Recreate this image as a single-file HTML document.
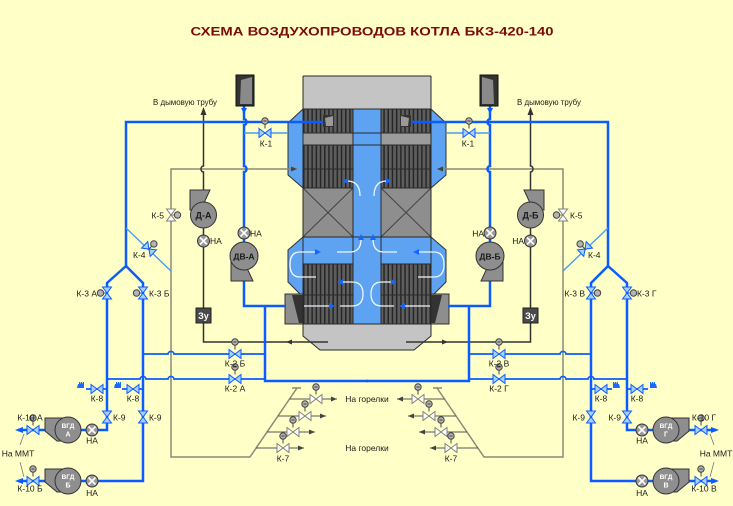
<!DOCTYPE html>
<html><head><meta charset="utf-8"><style>
html,body{margin:0;padding:0;background:#ffffc8;}
svg{display:block;}
text{font-family:"Liberation Sans",sans-serif;fill:#1a1a1a;font-size:8.5px;}
</style></head><body>
<svg width="733" height="506" viewBox="0 0 733 506" xmlns="http://www.w3.org/2000/svg">
<defs>
<pattern id="hat" x="303" y="0" width="4.2" height="10" patternUnits="userSpaceOnUse">
<rect width="4.2" height="10" fill="#5e5e5e"/><rect width="1.5" height="10" fill="#262626"/>
</pattern>
<path id="vh" d="M-6,-4.5 L0,0 L-6,4.5 Z M6,-4.5 L0,0 L6,4.5 Z"/>
<path id="vv" d="M-4.5,-6 L0,0 L4.5,-6 Z M-4.5,6 L0,0 L4.5,6 Z"/>
<g id="act"><line x1="0" y1="0" x2="0" y2="-4.5" stroke="#444"/><circle cx="0" cy="-7.5" r="3.2" fill="#b4b4b4" stroke="#444"/><line x1="-1.6" y1="-7.5" x2="1.6" y2="-7.5" stroke="#222" stroke-width="0.8"/></g>
<g id="na"><circle r="6" fill="#9a9a9a" stroke="#333" stroke-width="1"/><path d="M-3.5,-3.5 L3.5,3.5 M-3.5,3.5 L3.5,-3.5" stroke="#fff" stroke-width="1.6"/></g>
</defs>
<rect width="733" height="506" fill="#ffffc8"/>

<g id="L">
<!-- boiler left half -->
<polygon points="303,109 288,123 288,175 303,188" fill="#5ea2f2" stroke="#333" stroke-width="1"/>
<polygon points="303,237 288,250 288,282 300,294 303,294" fill="#5ea2f2" stroke="#333" stroke-width="1"/>
<rect x="303" y="76" width="64.5" height="33" fill="#c4c4c4"/>
<rect x="303" y="109" width="50" height="24" fill="url(#hat)"/>
<rect x="303" y="133" width="50" height="12" fill="#9c9c9c"/>
<rect x="303" y="145" width="50" height="43" fill="url(#hat)"/>
<rect x="353" y="109" width="14.5" height="215" fill="#5ea2f2"/>
<rect x="303" y="188" width="50" height="49" fill="#8e8e8e"/>
<path d="M303,188 L353,237 M353,188 L303,237" stroke="#444" stroke-width="1"/>
<rect x="303" y="237" width="64.5" height="27" fill="#5ea2f2"/>
<rect x="303" y="264" width="50" height="60" fill="url(#hat)"/>
<polygon points="303,324 367.5,324 367.5,350 320,350 303,336" fill="#c4c4c4"/>
<rect x="285" y="294" width="18" height="30" fill="#8e8e8e" stroke="#333" stroke-width="1"/>
<polygon points="292,295 303,295 303,323 299,323" fill="#333"/>
<path d="M303,76 H367.5 M303,76 V336 L320,350 H367.5 M303,109 H367.5 M303,133 H367.5 M303,145 H367.5 M303,169 H353 M303,188 H353 M303,237 H367.5 M303,264 H353 M303,295 H353 M303,324 H367.5 M353,109 V324" stroke="#2a2a2a" stroke-width="1" fill="none"/>
<rect x="323" y="115" width="11" height="12" fill="#333"/>
<polygon points="325,118 333,116 333,126 326,126" fill="#9a9a9a"/>
<!-- flow arrows -->
<g fill="none" stroke="#eef6ff" stroke-width="1.3">
<path d="M360,196 Q360,181 347,181"/>
<path d="M337,252 H350 Q361,252 361,239"/>
<path d="M316,277 H300 Q290,277 290,264.5 Q290,252 300,252 H316"/>
<path d="M304,306 H330 M340,306 H352 Q363,306 363,294 Q363,282 352,282 H342"/>
</g>
<g fill="#1466ff">
<polygon points="348,178 342,181 348,184"/>
<polygon points="358,240 361,234 364,240"/>
<polygon points="315,249 321,252 315,255"/>
<polygon points="329,303 335,306 329,309"/>
<polygon points="343,279 337,282 343,285"/>
</g>

<!-- gray lines -->
<path d="M297,169 H171 V457 H250 L297,388 M292,388 H301" fill="none" stroke="#8a8a78" stroke-width="1.5"/>
<polygon points="291,166.5 297,169 291,171.5" fill="#444"/>
<path d="M289.5,399 H337 M278,416 H326 M267,432 H315 M256,448 H304" stroke="#555" stroke-width="1"/>
<g fill="#444">
<polygon points="331,396.5 337,399 331,401.5"/>
<polygon points="320,413.5 326,416 320,418.5"/>
<polygon points="309,429.5 315,432 309,434.5"/>
<polygon points="298,445.5 304,448 298,450.5"/>
</g>
<g fill="#fff" stroke="#808080" stroke-width="1">
<use href="#vh" x="316" y="399"/><use href="#act" x="316" y="394.5"/>
<use href="#vh" x="305" y="416"/><use href="#act" x="305" y="411.5"/>
<use href="#vh" x="293" y="432"/><use href="#act" x="293" y="427.5"/>
<use href="#vh" x="283" y="448"/><use href="#act" x="283" y="443.5"/>
<use href="#vv" x="171" y="215"/>
<line x1="171" y1="215" x2="174.5" y2="215"/><circle cx="177.5" cy="215" r="3.2" fill="#b4b4b4" stroke="#444"/>
</g>

<!-- dark Д line -->
<path d="M328,342 H203.5 V172 a2.5,3 0 0 1 0,-6 V111" fill="none" stroke="#333" stroke-width="1.5"/>
<polygon points="200.5,115 203.5,107 206.5,115" fill="#333"/>
<polygon points="292,339.5 286,342 292,344.5" fill="#333"/>

<!-- blue main lines -->
<g fill="none" stroke="#0a5cff" stroke-width="2.5">
<path d="M323,122 H126 V266 L107,283 V430 H18"/>
<path d="M126,266 L143,283 V481 H18"/>
<path d="M244,106 V119 a2.5,3 0 0 1 0,6 V166 a2.5,3 0 0 1 0,6 V306 H286"/>
<path d="M265,306 V381 H368"/>
</g>
<g fill="none" stroke="#0a5cff" stroke-width="1.7">
<path d="M143,354 H168 a3,2.5 0 0 1 6,0 H265"/>
<path d="M107,379 H140 a3,2.5 0 0 1 6,0 H168 a3,2.5 0 0 1 6,0 H265"/>
<path d="M107,389 H86 M143,389 H122"/>
</g>
<polygon points="241,108 244,114 247,108" fill="#0a5cff"/>
<polygon points="23,427 15,430 23,433" fill="#0a5cff"/>
<polygon points="23,478 15,481 23,484" fill="#0a5cff"/>
<g fill="none" stroke="#4a9cf0" stroke-width="1.4">
<path d="M244,133 H288"/>
<path d="M126,228 L171,271"/>
</g>
<path d="M20,445 L24,434 M20,462 L24,477" stroke="#777" stroke-width="0.8"/>
<!-- K-8 icons -->
<g fill="#1a6aff">
<path d="M77,388 l1,-4 l1,0 l0,-2 l1,0 l0,2 l1,-2 l1,0 l0,2 l1,-2 l1,0 l0,6 z"/>
<path d="M114,388 l1,-4 l1,0 l0,-2 l1,0 l0,2 l1,-2 l1,0 l0,2 l1,-2 l1,0 l0,6 z"/>
</g>
<!-- blue valves -->
<g fill="#a8d0ff" stroke="#0a5cff" stroke-width="1">
<use href="#vh" x="265" y="133"/><use href="#act" x="265" y="128.5"/>
<use href="#vh" x="235" y="354"/><use href="#act" x="235" y="349.5"/>
<use href="#vh" x="235" y="379"/><use href="#act" x="235" y="374.5"/>
<use href="#vv" x="107" y="293"/><line x1="104" y1="293" x2="107" y2="293"/><circle cx="100.5" cy="293" r="3.2" fill="#b4b4b4" stroke="#444"/>
<use href="#vv" x="143" y="293"/><line x1="140" y1="293" x2="143" y2="293"/><circle cx="136.5" cy="293" r="3.2" fill="#b4b4b4" stroke="#444"/>
<use href="#vv" x="107" y="417"/>
<use href="#vv" x="143" y="417"/>
<use href="#vh" x="97" y="389"/>
<use href="#vh" x="133" y="389"/>
<use href="#vh" x="33" y="430"/><use href="#act" x="33" y="425.5"/>
<use href="#vh" x="33" y="481"/><use href="#act" x="33" y="476.5"/>
<g transform="translate(149,249) rotate(43.7)"><use href="#vh"/><line x1="0" y1="0" x2="0" y2="-4" stroke="#444"/><circle cx="0" cy="-7" r="3.2" fill="#b4b4b4" stroke="#444"/></g>
</g>

<!-- intake box -->
<rect x="236" y="75" width="18" height="31" fill="#333" stroke="#111" stroke-width="1"/>
<polygon points="241,80 252,77 252,104 240,104" fill="#8a8a8a"/>

<!-- fans -->
<g fill="#8e8e8e" stroke="#333" stroke-width="1">
<polygon points="190,190 210,190 204,203 204,210 190,210"/>
<circle cx="203.5" cy="215" r="13"/>
<polygon points="231,260 231,281 253,281 246,266"/>
<circle cx="244" cy="256" r="14"/>
<polygon points="45,418 68,418 68,441 57,441 45,431"/>
<circle cx="68" cy="430" r="13"/>
<polygon points="45,469 68,469 68,492 57,492 45,482"/>
<circle cx="68" cy="481" r="13"/>
</g>
<use href="#na" x="203.5" y="241"/>
<use href="#na" x="244" y="233"/>
<use href="#na" x="92" y="430"/>
<use href="#na" x="92" y="481"/>
<rect x="196" y="308" width="15" height="15" fill="#4a4a4a" stroke="#222" stroke-width="1"/>
</g>

<use href="#L" transform="matrix(-1,0,0,1,734,0)"/>

<!-- title -->
<text x="372" y="35.5" text-anchor="middle" font-weight="bold" style="font-size:12px;fill:#7a0a0a" textLength="363" lengthAdjust="spacingAndGlyphs">СХЕМА ВОЗДУХОПРОВОДОВ КОТЛА БКЗ-420-140</text>

<!-- labels -->
<text x="185" y="105" text-anchor="middle" textLength="64" lengthAdjust="spacingAndGlyphs">В дымовую трубу</text>
<text x="549" y="105" text-anchor="middle" textLength="64" lengthAdjust="spacingAndGlyphs">В дымовую трубу</text>
<text x="266" y="146.5" text-anchor="middle">К-1</text>
<text x="468" y="146.5" text-anchor="middle">К-1</text>
<text x="164" y="218.5" text-anchor="end">К-5</text>
<text x="570" y="218.5">К-5</text>
<text x="210" y="244">НА</text>
<text x="524" y="244" text-anchor="end">НА</text>
<text x="250" y="236.5">НА</text>
<text x="484" y="236.5" text-anchor="end">НА</text>
<text x="133" y="258">К-4</text>
<text x="588" y="258">К-4</text>
<text x="97" y="296.5" text-anchor="end">К-3 А</text>
<text x="149" y="296.5">К-3 Б</text>
<text x="585" y="296.5" text-anchor="end">К-3 В</text>
<text x="637" y="296.5">К-3 Г</text>
<text x="235" y="366.5" text-anchor="middle">К-2 Б</text>
<text x="235" y="391.5" text-anchor="middle">К-2 А</text>
<text x="499" y="366.5" text-anchor="middle">К-2 В</text>
<text x="499" y="391.5" text-anchor="middle">К-2 Г</text>
<text x="97" y="401.5" text-anchor="middle">К-8</text>
<text x="133" y="401.5" text-anchor="middle">К-8</text>
<text x="601" y="401.5" text-anchor="middle">К-8</text>
<text x="637" y="401.5" text-anchor="middle">К-8</text>
<text x="113" y="420.5">К-9</text>
<text x="149" y="420.5">К-9</text>
<text x="585" y="420.5" text-anchor="end">К-9</text>
<text x="621" y="420.5" text-anchor="end">К-9</text>
<text x="367" y="402" text-anchor="middle">На горелки</text>
<text x="367" y="451" text-anchor="middle">На горелки</text>
<text x="283" y="461.5" text-anchor="middle">К-7</text>
<text x="451" y="461.5" text-anchor="middle">К-7</text>
<text x="30" y="420.5" text-anchor="middle">К-10 А</text>
<text x="30" y="491.5" text-anchor="middle">К-10 Б</text>
<text x="704" y="420.5" text-anchor="middle">К-10 Г</text>
<text x="704" y="491.5" text-anchor="middle">К-10 В</text>
<text x="92" y="443.5" text-anchor="middle">НА</text>
<text x="92" y="496" text-anchor="middle">НА</text>
<text x="642" y="443.5" text-anchor="middle">НА</text>
<text x="642" y="496" text-anchor="middle">НА</text>
<text x="18" y="456.5" text-anchor="middle">На ММТ</text>
<text x="716" y="456.5" text-anchor="middle">На ММТ</text>

<!-- fan labels -->
<g font-weight="bold" text-anchor="middle">
<text x="203.5" y="218.5" style="font-size:9px">Д-А</text>
<text x="530.5" y="218.5" style="font-size:9px">Д-Б</text>
<text x="244" y="259.5" style="font-size:8.5px">ДВ-А</text>
<text x="490" y="259.5" style="font-size:8.5px">ДВ-Б</text>
<text x="203.5" y="319" style="font-size:9px;fill:#fff">Зу</text>
<text x="530.5" y="319" style="font-size:9px;fill:#fff">Зу</text>
<text x="68" y="428" style="font-size:6.5px;fill:#fff">ВГД</text>
<text x="68" y="436.5" style="font-size:7px;fill:#fff">А</text>
<text x="68" y="479" style="font-size:6.5px;fill:#fff">ВГД</text>
<text x="68" y="487.5" style="font-size:7px;fill:#fff">Б</text>
<text x="666" y="428" style="font-size:6.5px;fill:#fff">ВГД</text>
<text x="666" y="436.5" style="font-size:7px;fill:#fff">Г</text>
<text x="666" y="479" style="font-size:6.5px;fill:#fff">ВГД</text>
<text x="666" y="487.5" style="font-size:7px;fill:#fff">В</text>
</g>
</svg>
</body></html>
